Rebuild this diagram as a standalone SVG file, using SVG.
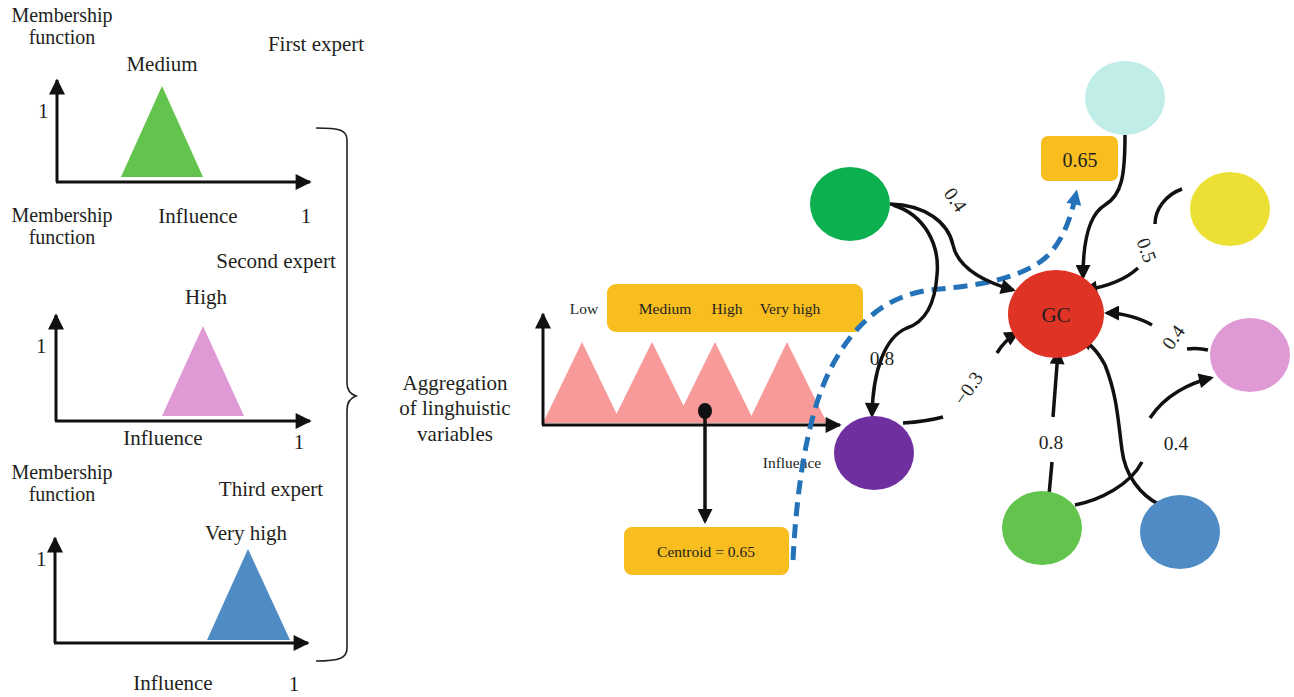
<svg xmlns="http://www.w3.org/2000/svg" width="1294" height="697" viewBox="0 0 1294 697">
<style>
text{font-family:"Liberation Serif","DejaVu Serif",serif;fill:#231f20}
.lg{font-size:21px}
.mf{font-size:20px}
.sm{font-size:15.5px}
.el{font-size:19.5px}
.mid{text-anchor:middle}
.ax{stroke:#111;stroke-width:3;fill:none}
.e{stroke:#111;stroke-width:3.5;fill:none}
.ea{stroke:#111;stroke-width:3.5;fill:none;marker-end:url(#ah)}
</style>
<defs>
<marker id="ah" viewBox="0 0 10 10" refX="8" refY="5" markerWidth="17" markerHeight="15" markerUnits="userSpaceOnUse" orient="auto"><path d="M0,0 L10,5 L0,10 z" fill="#111"/></marker>
<marker id="axh" viewBox="0 0 10 10" refX="9" refY="5" markerWidth="18" markerHeight="16" markerUnits="userSpaceOnUse" orient="auto"><path d="M0,0 L10,5 L0,10 z" fill="#111"/></marker>
<marker id="bh" viewBox="0 0 10 10" refX="7" refY="5" markerWidth="18" markerHeight="15" markerUnits="userSpaceOnUse" orient="auto"><path d="M0,0 L10,5 L0,10 z" fill="#2472b8"/></marker>
</defs>

<g id="panel1">
<text class="mf mid" x="62" y="22">Membership</text>
<text class="mf mid" x="62" y="44">function</text>
<text class="lg mid" x="316" y="51">First expert</text>
<text class="lg mid" x="162" y="71">Medium</text>
<text class="lg" x="38" y="118">1</text>
<polygon points="162,86 121,177 203,177" fill="#62c44c"/>
<path class="ax" d="M57,182 V80" marker-end="url(#axh)"/>
<path class="ax" d="M56,182 H310" marker-end="url(#axh)"/>
<text class="lg mid" x="198" y="223">Influence</text>
<text class="lg mid" x="306" y="223">1</text>
</g>

<g id="panel2">
<text class="mf mid" x="62" y="222">Membership</text>
<text class="mf mid" x="62" y="244">function</text>
<text class="lg mid" x="276" y="268">Second expert</text>
<text class="lg mid" x="206" y="304">High</text>
<text class="lg" x="36" y="353">1</text>
<polygon points="203,326 162,416 244,416" fill="#df9ad6"/>
<path class="ax" d="M56,421 V315" marker-end="url(#axh)"/>
<path class="ax" d="M55,421 H310" marker-end="url(#axh)"/>
<text class="lg mid" x="163" y="445">Influence</text>
<text class="lg mid" x="299" y="449">1</text>
</g>

<g id="panel3">
<text class="mf mid" x="62" y="479">Membership</text>
<text class="mf mid" x="62" y="501">function</text>
<text class="lg mid" x="271" y="496">Third expert</text>
<text class="lg mid" x="246" y="540">Very high</text>
<text class="lg" x="36" y="566">1</text>
<polygon points="248,549 207,640 290,640" fill="#4f8cc6"/>
<path class="ax" d="M55,643 V538" marker-end="url(#axh)"/>
<path class="ax" d="M54,643 H308" marker-end="url(#axh)"/>
<text class="lg mid" x="173" y="690">Influence</text>
<text class="lg mid" x="294" y="691">1</text>
</g>

<g id="brace">
<path d="M316,128 C340,128 347,130 347,140 V383 C347,390 350,394 356,396 C350,398 347,402 347,410 V648 C347,658 340,661 316,661" fill="none" stroke="#231f20" stroke-width="1.6"/>
</g>

<g id="aggregation">
<text class="lg mid" x="455" y="390">Aggregation</text>
<text class="lg mid" x="455" y="415">of linghuistic</text>
<text class="lg mid" x="455" y="441">variables</text>
</g>

<g id="aggchart">
<rect x="607" y="284" width="256" height="48" rx="9" fill="#f8bd1f"/>
<text class="sm mid" x="584" y="314">Low</text>
<text class="sm mid" x="665" y="314">Medium</text>
<text class="sm mid" x="727" y="314">High</text>
<text class="sm mid" x="790" y="314">Very high</text>
<g fill="#f99a9a">
<polygon points="582,342 543,423 621,423"/>
<polygon points="652,342 612,423 692,423"/>
<polygon points="715,342 675,423 755,423"/>
<polygon points="787,342 748,423 827,423"/>
</g>
<path class="ax" d="M543,425 V314" marker-end="url(#axh)"/>
<path class="ax" d="M542,425 H840" marker-end="url(#axh)"/>
<text class="sm mid" x="792" y="468">Influence</text>
<ellipse cx="705" cy="411" rx="7" ry="8" fill="#111"/>
<path class="ea" d="M705,411 V521"/>
</g>

<g id="centroid">
<rect x="624" y="527" width="165" height="48" rx="8" fill="#f8bd1f"/>
<text class="sm mid" x="706" y="557">Centroid = 0.65</text>
</g>

<g id="box065">
<rect x="1041" y="136" width="77" height="45" rx="7" fill="#f8bd1f"/>
<text class="mid" x="1080" y="167" style="font-size:20px">0.65</text>
</g>

<g id="connectors">
<path d="M793,560 C796,500 805,420 830,370 C855,320 890,295 930,290 C970,286 1010,282 1040,262 C1060,248 1070,222 1076,194" fill="none" stroke="#2472b8" stroke-width="5" stroke-dasharray="14,8" marker-end="url(#bh)"/>
<path class="ea" d="M890,204 C925,205 948,222 953,245 C958,268 985,282 1013,290"/>
<path class="ea" d="M893,205 C925,215 940,245 937,275 C935,305 925,322 907,328 C885,337 873,370 872,415"/>
<path class="ea" d="M1125,135 C1125,175 1122,195 1105,205 C1088,215 1083,245 1083,277"/>
<path class="e" d="M1182,189 C1165,195 1155,210 1155,224"/>
<path class="ea" d="M1138,268 C1125,280 1105,287 1085,290"/>
<path class="e" d="M1208,350 C1200,348 1194,348 1187,349"/>
<path class="ea" d="M1152,325 C1140,318 1122,313 1107,313"/>
<path class="e" d="M903,423 C920,422 932,420 943,417"/>
<path class="ea" d="M997,353 C1003,343 1010,337 1017,333"/>
<path class="e" d="M1049,495 L1052,462"/>
<path class="ea" d="M1053,417 L1058,352"/>
<path class="e" d="M1075,505 C1100,500 1130,485 1142,462"/>
<path class="ea" d="M1150,418 C1165,395 1190,383 1211,378"/>
<path class="ea" d="M1160,505 C1140,495 1125,475 1122,450 C1118,420 1117,395 1105,365 C1097,350 1088,342 1080,339"/>
<text class="el mid" x="955" y="206" transform="rotate(55 955 200)">0.4</text>
<text class="el mid" x="882" y="365">0.8</text>
<text class="el mid" x="1147" y="257" transform="rotate(70 1147 250)">0.5</text>
<text class="el mid" x="1173" y="344" transform="rotate(-55 1173 337)">0.4</text>
<text class="el mid" x="968" y="395" transform="rotate(-55 968 388)">−0.3</text>
<text class="el mid" x="1051" y="449">0.8</text>
<text class="el mid" x="1176" y="450">0.4</text>
</g>

<g id="nodes">
<ellipse id="n-darkgreen" cx="850" cy="204" rx="40" ry="37" fill="#0db04f"/>
<ellipse id="n-cyan" cx="1125" cy="98" rx="40" ry="37" fill="#c0ede8"/>
<ellipse id="n-yellow" cx="1230" cy="209" rx="40" ry="37" fill="#ebe033"/>
<ellipse id="n-pink" cx="1250" cy="355" rx="40" ry="37" fill="#df9ad6"/>
<ellipse id="n-purple" cx="874" cy="453" rx="40" ry="37" fill="#6f2f9f"/>
<ellipse id="n-green" cx="1042" cy="528" rx="40" ry="37" fill="#62c44c"/>
<ellipse id="n-blue" cx="1180" cy="532" rx="40" ry="37" fill="#4f8cc6"/>
<g id="n-gc">
<ellipse cx="1056" cy="314" rx="48" ry="44" fill="#df3326"/>
<text class="mid" x="1056" y="322" style="font-size:21px">GC</text>
</g>
</g>
</svg>
